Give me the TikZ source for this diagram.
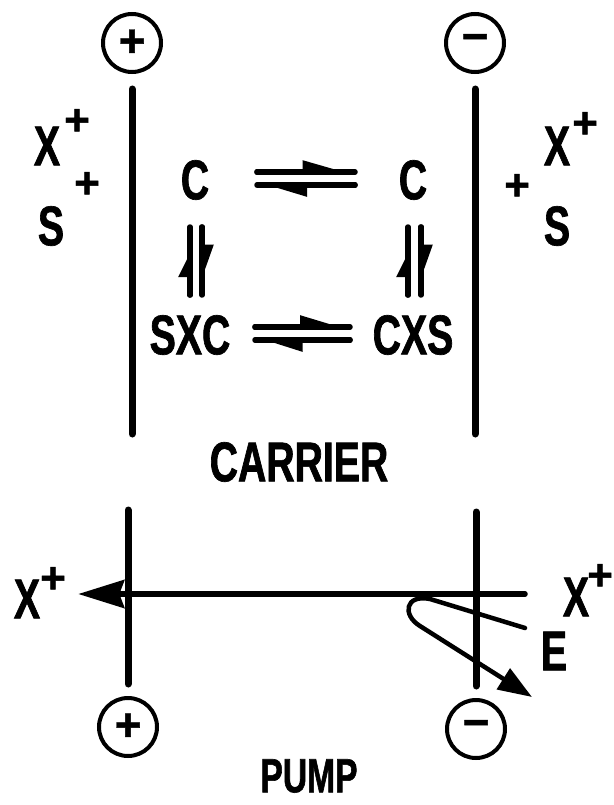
\documentclass[tikz,border=0pt]{standalone}
\usepackage{fontspec}
\newfontfamily\lettfont{Liberation Sans}[FakeStretch=0.7,FakeBold=1.2]
\newfontfamily\signfont{Liberation Sans}[FakeBold=1]
\usetikzlibrary{arrows.meta}
\tikzset{
  lbl/.style={inner sep=0pt, font=\lettfont\bfseries\fontsize{56}{60}\selectfont},
  sign/.style={inner sep=0pt, font=\signfont\bfseries\fontsize{44}{48}\selectfont},
  pole/.style={circle, draw, line width=4pt, minimum size=58pt, inner sep=0pt,
    font=\signfont\bfseries\fontsize{46}{50}\selectfont},
  membrane/.style={line width=7pt, line cap=round},
  eqline/.style={line width=5.5pt, line cap=round},
  barb/.style={-{Triangle[harpoon,length=#1,width=22pt]}},
  pumpline/.style={line width=5.5pt, line cap=round, -{Stealth[length=46pt,width=28pt,inset=5pt]}},
  loopline/.style={line width=4.5pt, line cap=round, line join=round, -{Triangle[length=34pt,width=24pt]}}
}
\begin{document}
\begin{tikzpicture}[x=1pt,y=-1pt]
    \useasboundingbox (0,0) rectangle (613,805);

    \node[pole] (pa) at (132,43) {+};
    \node[pole] (pb) at (475,43) {−};
    \node[pole] (pc) at (128,727) {+};
    \node[pole] (pd) at (476,729) {−};
    \draw[membrane, shorten <=15pt] (pa.south) -- ++(0,360);
    \draw[membrane, shorten <=15pt] (pb.south) -- ++(0,360);
    \draw[membrane, shorten <=12pt] (pc.north) -- ++(0,-186);
    \draw[membrane, shorten <=12pt] (pd.north) -- ++(0,-186);

    \node[lbl] (xl) at (47,146) {X};
    \node[sign] (xlp) at (77,122) {+};
    \node[sign] (slp) at (87,185) {+};
    \node[lbl] (sl) at (51,226) {S};
    \node[lbl] (xr) at (557,146) {X};
    \node[sign] (xrp) at (585,125) {+};
    \node[sign] (srp) at (517,187) {+};
    \node[lbl] (sr) at (557,226) {S};

    \node[lbl] (cl) at (195,180) {C};
    \node[lbl] (cr) at (413,180) {C};
    \node[lbl] (sxc) at (190,335) {SXC};
    \node[lbl] (cxs) at (413,335) {CXS};
    \node[lbl] (carrier) at (299,462) {CARRIER};

    \draw[eqline] ([shift={(62,-8)}]cl.center) -- ([shift={(-58,-8)}]cr.center);
    \draw[eqline, barb=42pt] ([shift={(62,-8)}]cl.center) -- ([shift={(-58,-8)}]cr.center);
    \draw[eqline] ([shift={(-58,5)}]cr.center) -- ([shift={(62,5)}]cl.center);
    \draw[eqline, barb=40pt] ([shift={(-58,5)}]cr.center) -- ([shift={(62,5)}]cl.center);
    \draw[eqline] ([shift={(65,-8)}]sxc.center) -- ([shift={(-63,-8)}]cxs.center);
    \draw[eqline, barb=40pt] ([shift={(65,-8)}]sxc.center) -- ([shift={(-63,-8)}]cxs.center);
    \draw[eqline] ([shift={(-63,5)}]cxs.center) -- ([shift={(65,5)}]sxc.center);
    \draw[eqline, barb=38pt] ([shift={(-63,5)}]cxs.center) -- ([shift={(65,5)}]sxc.center);

    \draw[eqline] ([shift={(0,-40)}]sxc.center) -- ([shift={(-5,47)}]cl.center);
    \draw[eqline, barb=24pt] ([shift={(0,-40)}]sxc.center) -- ([shift={(-5,67)}]cl.center);
    \draw[eqline] ([shift={(7,47)}]cl.center) -- ([shift={(12,-40)}]sxc.center);
    \draw[eqline, barb=34pt] ([shift={(7,47)}]cl.center) -- ([shift={(12,-48)}]sxc.center);
    \draw[eqline] ([shift={(-5,-40)}]cxs.center) -- ([shift={(-5,47)}]cr.center);
    \draw[eqline, barb=24pt] ([shift={(-5,-40)}]cxs.center) -- ([shift={(-5,67)}]cr.center);
    \draw[eqline] ([shift={(8,47)}]cr.center) -- ([shift={(8,-40)}]cxs.center);
    \draw[eqline, barb=34pt] ([shift={(8,47)}]cr.center) -- ([shift={(8,-48)}]cxs.center);

    \node[lbl] (xa) at (27,599) {X};
    \node[sign] (xap) at (53,580) {+};
    \node[lbl] (xb) at (576,597) {X};
    \node[sign] (xbp) at (600,577) {+};
    \node[lbl] (e) at (554,651) {E};
    \node[lbl, font=\lettfont\bfseries\fontsize{48}{52}\selectfont] (pump) at (309,776) {PUMP};

    \coordinate (pin) at (525,594);
    \draw[pumpline, shorten >=38pt] (pin) -- (pin -| xa.east);
    \coordinate (lin) at (525,628);
    \coordinate (ltip) at (532,697);
    \draw[loopline] (lin) -- (430,599) .. controls (405,594) and (402,615) .. (420,626) -- (ltip);
\end{tikzpicture}
\end{document}
